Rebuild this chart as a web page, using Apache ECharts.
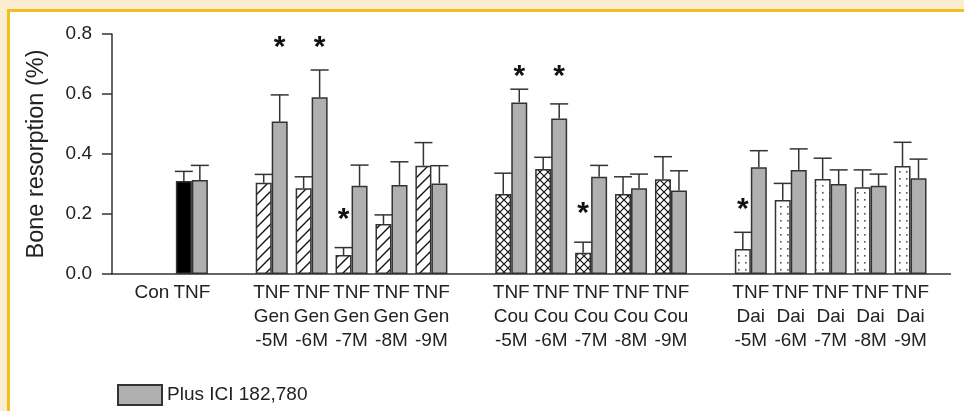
<!DOCTYPE html>
<html><head><meta charset="utf-8">
<script src="https://cdn.jsdelivr.net/npm/echarts@6/dist/echarts.min.js"></script>
<style>
html,body{margin:0;padding:0;background:#FCEDD0;}
#frame{position:absolute;left:7px;top:9px;width:957px;height:402px;border-left:3px solid #F2BE22;border-top:3px solid #F2BE22;background:#fff;box-sizing:border-box;}
#chart{position:absolute;left:0;top:0;width:964px;height:411px;}
</style></head><body>
<div id="frame"></div><div id="chart"></div>
<script>
// ---- data ----
const categories = ['', 'Con', 'TNF', ' ',
  'TNF\nGen\n-5M', 'TNF\nGen\n-6M', 'TNF\nGen\n-7M', 'TNF\nGen\n-8M', 'TNF\nGen\n-9M', '  ',
  'TNF\nCou\n-5M', 'TNF\nCou\n-6M', 'TNF\nCou\n-7M', 'TNF\nCou\n-8M', 'TNF\nCou\n-9M', '   ',
  'TNF\nDai\n-5M', 'TNF\nDai\n-6M', 'TNF\nDai\n-7M', 'TNF\nDai\n-8M', 'TNF\nDai\n-9M', '    '];
const groupType = [null, 'none', 'solid', null,
  'gen', 'gen', 'gen', 'gen', 'gen', null,
  'cou', 'cou', 'cou', 'cou', 'cou', null,
  'dai', 'dai', 'dai', 'dai', 'dai', null];
const tnfValues = [null, null, 0.310, null,
  0.304, 0.286, 0.063, 0.167, 0.361, null,
  0.267, 0.350, 0.071, 0.267, 0.316, null,
  0.083, 0.247, 0.317, 0.289, 0.360, null];
const tnfErrTop = [null, null, 0.342, null,
  0.332, 0.324, 0.088, 0.197, 0.438, null,
  0.336, 0.389, 0.106, 0.324, 0.391, null,
  0.139, 0.302, 0.386, 0.347, 0.439, null];
const iciValues = [null, null, 0.313, null,
  0.508, 0.589, 0.294, 0.297, 0.302, null,
  0.572, 0.518, 0.324, 0.286, 0.278, null,
  0.356, 0.347, 0.300, 0.294, 0.319, null];
const iciErrTop = [null, null, 0.362, null,
  0.597, 0.680, 0.363, 0.374, 0.361, null,
  0.616, 0.567, 0.362, 0.333, 0.344, null,
  0.411, 0.417, 0.347, 0.333, 0.383, null];
// significance stars: category index, side (0 = without ICI, 1 = plus ICI), height
const starCategory = [4, 5, 6, 10, 11, 12, 16];
const starSide     = [1, 1, 0, 1, 1, 0, 0];
const starY        = [0.77, 0.77, 0.197, 0.674, 0.674, 0.217, 0.23];
const yMin = 0, yMax = 0.8, yStep = 0.2;
const legendName = 'Plus ICI 182,780';

// ---- patterns ----
function makeTile(size, draw){
  const c = document.createElement('canvas'); c.width = size; c.height = size;
  const g = c.getContext('2d'); g.fillStyle = '#fff'; g.fillRect(0,0,size,size);
  draw(g, size); return c;
}
const hatch = makeTile(11, (g,s)=>{ g.strokeStyle='#111'; g.lineWidth=1.4;
  g.beginPath(); g.moveTo(0,s); g.lineTo(s,0); g.moveTo(-2,2); g.lineTo(2,-2); g.moveTo(s-2,s+2); g.lineTo(s+2,s-2); g.stroke(); });
const cross = makeTile(8, (g,s)=>{ g.strokeStyle='#111'; g.lineWidth=1.2;
  g.beginPath(); g.moveTo(0,0); g.lineTo(s,s); g.moveTo(0,s); g.lineTo(s,0); g.stroke(); });
const dots = makeTile(7, (g,s)=>{ g.fillStyle='#555'; g.fillRect(3,3,1.6,1.6); });
function fillFor(t){
  if (t === 'solid') return '#000';
  if (t === 'gen') return {image: hatch, repeat: 'repeat'};
  if (t === 'cou') return {image: cross, repeat: 'repeat'};
  if (t === 'dai') return {image: dots, repeat: 'repeat'};
  return '#fff';
}
const BORDER = '#333';
const HALF = 8;

const errData = [];
tnfValues.forEach((v,i)=>{ if (v != null) errData.push([i, 0, v, tnfErrTop[i]]); });
iciValues.forEach((v,i)=>{ if (v != null) errData.push([i, 1, v, iciErrTop[i]]); });
const starData = starCategory.map((c,k)=>[c, starSide[k], starY[k]]);

const font = 'Liberation Sans, Arial, sans-serif';
const chart = echarts.init(document.getElementById('chart'), null, {renderer:'canvas'});
chart.setOption({
  animation: false,
  backgroundColor: 'transparent',
  textStyle: {fontFamily: font},
  grid: {left: 112, right: 9, top: 34, bottom: 137},
  legend: {
    data: [legendName], left: 112, top: 379, itemWidth: 44, itemHeight: 20, icon: 'rect',
    textStyle: {fontSize: 19, color: '#222', fontFamily: font}
  },
  xAxis: {
    type: 'category', data: categories, boundaryGap: false,
    axisLine: {show: true, lineStyle: {color: BORDER, width: 1.5}},
    axisTick: {show: false},
    axisLabel: {interval: 0, fontSize: 19, lineHeight: 24, color: '#222', margin: 7, fontFamily: font},
    splitLine: {show: false}
  },
  yAxis: {
    type: 'value', min: yMin, max: yMax, interval: yStep,
    name: 'Bone resorption (%)', nameLocation: 'middle', nameGap: 63,
    nameTextStyle: {fontSize: 23.5, color: '#222', fontFamily: font},
    axisLine: {show: true, lineStyle: {color: BORDER, width: 1.5}},
    axisTick: {show: true, length: 10, lineStyle: {color: BORDER, width: 1.5}},
    axisLabel: {formatter: v => v.toFixed(1), fontSize: 19, color: '#222', margin: 20, fontFamily: font},
    splitLine: {show: false}
  },
  series: [
    {
      name: 'TNF', type: 'bar', barWidth: 16, barGap: '0%',
      itemStyle: {borderColor: BORDER, borderWidth: 1.5},
      data: tnfValues.map((v,i)=> v == null ? '-' : {value: v, itemStyle: {color: fillFor(groupType[i]), borderColor: BORDER, borderWidth: 1.5}})
    },
    {
      name: legendName, type: 'bar', barWidth: 16, barGap: '0%',
      itemStyle: {color: '#b0b0b0', borderColor: BORDER, borderWidth: 1.5},
      data: iciValues.map(v => v == null ? '-' : v)
    },
    {
      name: 'err', type: 'custom', data: errData, encode: {x: 0, y: [2,3]}, z: 3,
      renderItem(params, api){
        const x = api.value(0), side = api.value(1), lo = api.value(2), hi = api.value(3);
        const p0 = api.coord([x, lo]), p1 = api.coord([x, hi]);
        const cx = p0[0] + (side ? HALF : -HALF);
        return {type: 'group', children: [
          {type: 'line', shape: {x1: cx, y1: p0[1], x2: cx, y2: p1[1]}, style: {stroke: BORDER, lineWidth: 1.5}},
          {type: 'line', shape: {x1: cx - 9, y1: p1[1], x2: cx + 9, y2: p1[1]}, style: {stroke: BORDER, lineWidth: 1.5}}
        ]};
      }
    },
    {
      name: 'stars', type: 'custom', data: starData, encode: {x: 0, y: 2}, z: 4,
      renderItem(params, api){
        const x = api.value(0), side = api.value(1), y = api.value(2);
        const p = api.coord([x, y]);
        return {type: 'text', x: p[0] + (side ? HALF : -HALF), y: p[1] + 5,
          style: {text: '*', fontSize: 30, fontWeight: 'bold', fill: '#111', align: 'center', verticalAlign: 'middle', fontFamily: font}};
      }
    }
  ]
});
</script></body></html>
